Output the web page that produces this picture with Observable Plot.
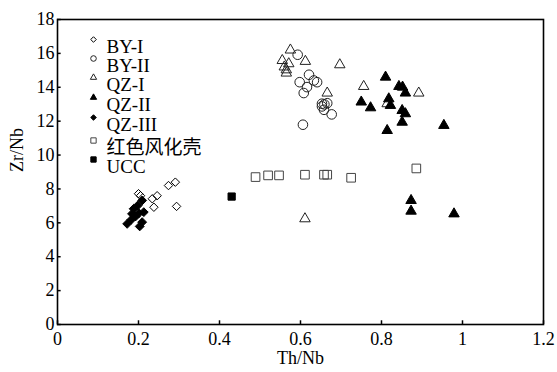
<!DOCTYPE html>
<html><head><meta charset="utf-8">
<script src="https://cdn.jsdelivr.net/npm/d3@7"></script>
<script src="https://cdn.jsdelivr.net/npm/@observablehq/plot@0.6"></script>
<style>body{margin:0;background:#fff}</style>
</head><body><div id="chart"></div>
<script>
// ---- data ----
const by1X = [0.274, 0.291, 0.205, 0.234, 0.246, 0.238, 0.294, 0.200];
const by1Y = [8.20, 8.40, 7.60, 7.42, 7.60, 6.92, 6.97, 7.72];

const by2X = [0.593, 0.621, 0.598, 0.616, 0.633, 0.641, 0.608, 0.653, 0.659, 0.666, 0.658, 0.677, 0.606, 0.653];
const by2Y = [15.92, 14.74, 14.30, 14.01, 14.40, 14.30, 13.66, 13.03, 12.99, 13.06, 12.67, 12.40, 11.79, 12.87];

const qz1X = [0.575, 0.555, 0.571, 0.565, 0.565, 0.612, 0.697, 0.666, 0.756, 0.892, 0.814, 0.611, 0.560];
const qz1Y = [16.20, 15.58, 15.39, 15.03, 14.84, 15.53, 15.33, 13.66, 14.05, 13.66, 13.03, 6.24, 15.20];

const qz2X = [0.810, 0.843, 0.852, 0.859, 0.818, 0.822, 0.750, 0.773, 0.851, 0.859, 0.851, 0.814, 0.954, 0.873, 0.873, 0.979];
const qz2Y = [14.60, 14.05, 14.01, 13.66, 13.32, 12.93, 13.13, 12.79, 12.63, 12.44, 11.94, 11.45, 11.75, 7.32, 6.69, 6.53];

const qz3X = [0.172, 0.182, 0.193, 0.201, 0.188, 0.198, 0.209, 0.203, 0.209, 0.213, 0.184];
const qz3Y = [5.94, 6.18, 6.38, 6.57, 6.83, 7.02, 7.32, 5.79, 6.04, 6.63, 6.53];

const crustX = [0.489, 0.520, 0.547, 0.611, 0.658, 0.666, 0.725, 0.886];
const crustY = [8.70, 8.80, 8.80, 8.84, 8.84, 8.84, 8.66, 9.21];

const uccX = [0.430];
const uccY = [7.55];

const xTicks = [0, 0.2, 0.4, 0.6, 0.8, 1, 1.2];
const xTickLabels = ["0", "0.2", "0.4", "0.6", "0.8", "1", "1.2"];
const yTicks = [0, 2, 4, 6, 8, 10, 12, 14, 16, 18];
const yTickLabels = ["0", "2", "4", "6", "8", "10", "12", "14", "16", "18"];

const seriesNames = ["BY-I", "BY-II", "QZ-I", "QZ-II", "QZ-III", "红色风化壳", "UCC"];

// ---- build ----
const pts = (xs, ys) => xs.map((x, i) => ({x, y: ys[i]}));
const series = [
  {name: seriesNames[0], data: pts(by1X, by1Y), symbol: "diamond2", fill: "none", stroke: "#000", r: 3.8, lr: 2.5},
  {name: seriesNames[1], data: pts(by2X, by2Y), symbol: "circle", fill: "none", stroke: "#222", r: 4.8, lr: 2.8},
  {name: seriesNames[2], data: pts(qz1X, qz1Y), symbol: "triangle2", fill: "none", stroke: "#222", r: 5.0, lr: 3.0},
  {name: seriesNames[3], data: pts(qz2X, qz2Y), symbol: "triangle2", fill: "#000", stroke: "#000", r: 5.0, lr: 3.0},
  {name: seriesNames[4], data: pts(qz3X, qz3Y), symbol: "diamond2", fill: "#000", stroke: "#000", r: 4.0, lr: 2.5},
  {name: seriesNames[5], data: pts(crustX, crustY), symbol: "square2", fill: "none", stroke: "#444", r: 5.5, lr: 3.4},
  {name: seriesNames[6], data: pts(uccX, uccY), symbol: "square2", fill: "#000", stroke: "#000", r: 4.6, lr: 3.4}
];
const legendDy = [20, 39, 58, 78, 98, 121, 140];

const serif = "'Liberation Serif', 'Times New Roman', 'Noto Sans CJK SC', serif";

const marks = [];
// inward ticks
marks.push(Plot.ruleX(xTicks, {x: d => d, y1: 0, y2: 0.22, stroke: "#000", strokeWidth: 1.5}));
marks.push(Plot.ruleY(yTicks, {y: d => d, x1: 0, x2: 0.009, stroke: "#000", strokeWidth: 1.5}));
// tick labels
marks.push(Plot.axisX(xTicks, {tickSize: 0, tickPadding: 8, tickFormat: (d) => xTickLabels[xTicks.indexOf(d)], fontSize: 18, label: null}));
marks.push(Plot.axisY(yTicks, {tickSize: 0, tickPadding: 3, tickFormat: (d) => yTickLabels[yTicks.indexOf(d)], fontSize: 18, label: null}));
// data
for (const s of series) {
  marks.push(Plot.dot(s.data, {x: "x", y: "y", symbol: () => s.symbol, r: s.r, fill: s.fill, stroke: s.stroke, strokeWidth: 1}));
}
// frame
marks.push(Plot.frame({stroke: "#000", strokeWidth: 1.6}));
// legend
series.forEach((s, i) => {
  marks.push(Plot.dot([s.name], {frameAnchor: "top-left", dx: 36, dy: legendDy[i], symbol: () => s.symbol, r: s.lr, fill: s.fill, stroke: s.stroke, strokeWidth: 1}));
  marks.push(Plot.text([s.name], {frameAnchor: "top-left", dx: 49, dy: legendDy[i], text: d => d, textAnchor: "start", fontSize: 19, fill: "#000"}));
});
// axis titles
marks.push(Plot.text(["Th/Nb"], {frameAnchor: "bottom", dy: 39, text: d => d, fontSize: 18}));
marks.push(Plot.text(["Zr/Nb"], {frameAnchor: "left", dx: -40, rotate: -90, text: d => d, fontSize: 18}));

const chart = Plot.plot({
  width: 557, height: 372,
  marginLeft: 57, marginRight: 14, marginTop: 19, marginBottom: 48,
  style: {fontFamily: serif, color: "#000", background: "#fff", overflow: "visible"},
  x: {domain: [0, 1.2]},
  y: {domain: [0, 18]},
  symbol: {type: "identity"},
  marks
});
document.getElementById("chart").appendChild(chart);
</script>
</body></html>
